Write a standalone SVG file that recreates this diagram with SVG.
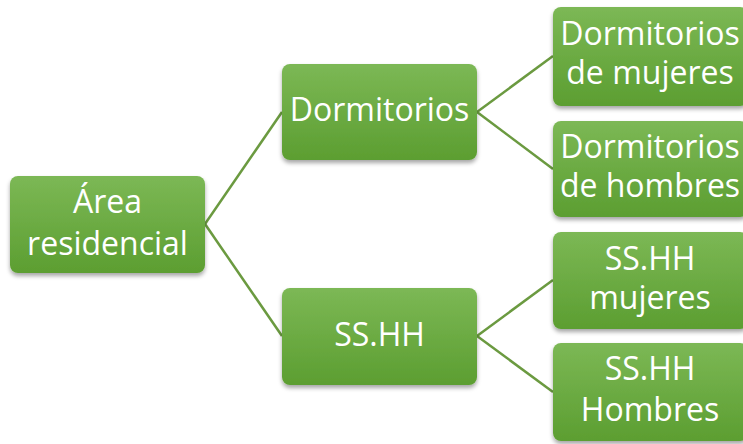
<svg xmlns="http://www.w3.org/2000/svg" width="743" height="444" viewBox="0 0 743 444">
<defs>
<linearGradient id="g" x1="0" y1="0" x2="0" y2="1">
<stop offset="0" stop-color="#7cb855"/>
<stop offset="1" stop-color="#5c9e31"/>
</linearGradient>
<filter id="sh" x="-10%" y="-10%" width="120%" height="130%">
<feDropShadow dx="0" dy="3" stdDeviation="2" flood-color="#000" flood-opacity="0.35"/>
</filter>
<style>
.box{fill:url(#g);filter:url(#sh);}
.t{font-family:"Open Sans","Noto Sans",sans-serif;font-size:32px;fill:#ffffff;text-anchor:middle;}
.c{stroke:#6b9a40;stroke-width:2.5;fill:none;}
</style>
</defs>
<rect width="743" height="444" fill="#ffffff"/>
<g id="connectors">
<line class="c" x1="205" y1="224" x2="282" y2="112"/>
<line class="c" x1="205" y1="224" x2="282" y2="336"/>
<line class="c" x1="477" y1="112" x2="553" y2="56"/>
<line class="c" x1="477" y1="112" x2="553" y2="169"/>
<line class="c" x1="477" y1="336" x2="553" y2="280"/>
<line class="c" x1="477" y1="336" x2="553" y2="392"/>
</g>
<g id="area">
<rect class="box" x="10" y="176" width="195" height="97" rx="8"/>
<text class="t" x="107.5" y="213">Área</text>
<text class="t" x="107.5" y="255">residencial</text>
</g>
<g id="dormitorios">
<rect class="box" x="282" y="64" width="195" height="96" rx="8"/>
<text class="t" x="379.5" y="121">Dormitorios</text>
</g>
<g id="sshh">
<rect class="box" x="282" y="288" width="195" height="97" rx="8"/>
<text class="t" x="379.5" y="346">SS.HH</text>
</g>
<g id="dorm-mujeres">
<rect class="box" x="553" y="7" width="195" height="99" rx="8"/>
<text class="t" x="650" y="45">Dormitorios</text>
<text class="t" x="650" y="84">de mujeres</text>
</g>
<g id="dorm-hombres">
<rect class="box" x="553" y="121" width="195" height="96" rx="8"/>
<text class="t" x="650" y="158">Dormitorios</text>
<text class="t" x="650" y="197">de hombres</text>
</g>
<g id="sshh-mujeres">
<rect class="box" x="553" y="232" width="195" height="97" rx="8"/>
<text class="t" x="650" y="270">SS.HH</text>
<text class="t" x="650" y="309">mujeres</text>
</g>
<g id="sshh-hombres">
<rect class="box" x="553" y="343" width="195" height="98" rx="8"/>
<text class="t" x="650" y="380">SS.HH</text>
<text class="t" x="650" y="421">Hombres</text>
</g>
</svg>
